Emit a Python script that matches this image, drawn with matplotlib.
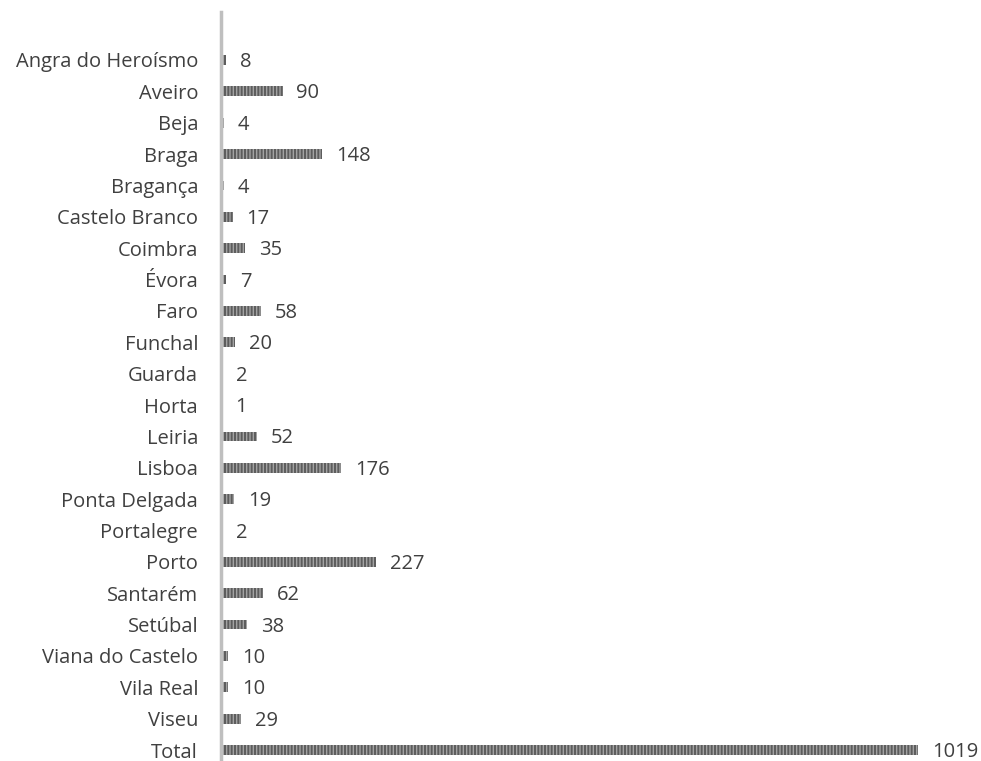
import matplotlib
matplotlib.use("Agg")
import matplotlib.pyplot as plt

districts = [
    "Angra do Heroísmo", "Aveiro", "Beja", "Braga", "Bragança", "Castelo Branco",
    "Coimbra", "Évora", "Faro", "Funchal", "Guarda", "Horta", "Leiria", "Lisboa",
    "Ponta Delgada", "Portalegre", "Porto", "Santarém", "Setúbal",
    "Viana do Castelo", "Vila Real", "Viseu", "Total",
]
counts = [8, 90, 4, 148, 4, 17, 35, 7, 58, 20, 2, 1, 52, 176, 19, 2, 227, 62, 38,
          10, 10, 29, 1019]

plt.rcParams["font.family"] = ["Open Sans", "DejaVu Sans"]
plt.rcParams["hatch.color"] = "#5c5c5c"
plt.rcParams["hatch.linewidth"] = 1.4

W, H = 981, 761
fig = plt.figure(figsize=(W / 100, H / 100), dpi=100)
left_px, right_px, top_px = 221, 981, 12
ax = fig.add_axes([left_px / W, 0, (right_px - left_px) / W, 1 - top_px / H])

ypos = list(range(len(districts)))
ax.barh(ypos, counts, height=0.31, color="#a3a3a3", edgecolor="#5c5c5c",
        linewidth=0, hatch="|||||", zorder=2)

# the longest bar spans about 697 px of the axes
xmax = max(counts) * (right_px - left_px) / 697
ax.set_xlim(0, xmax)
ax.set_ylim(22.35, -1.53)

for y, v in zip(ypos, counts):
    ax.annotate(str(v), (v, y), xytext=(10, -1.5), textcoords="offset points",
                va="center", ha="left", fontsize=14.5, color="#404040")

ax.set_yticks(ypos)
ax.set_yticklabels(districts, fontsize=14.5, color="#404040")
ax.tick_params(axis="y", length=0, pad=16.5)
ax.set_xticks([])

for s in ("top", "right", "bottom"):
    ax.spines[s].set_visible(False)
ax.spines["left"].set_color("#bfbfbf")
ax.spines["left"].set_linewidth(2.5)

fig.savefig("out.png", dpi=100)
